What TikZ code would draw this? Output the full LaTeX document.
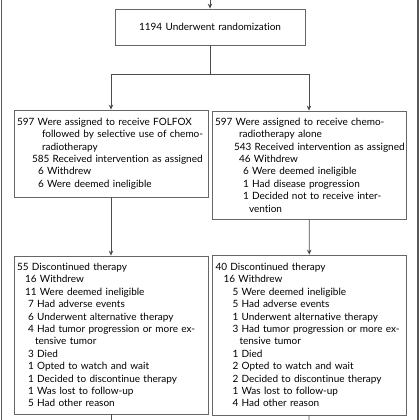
\documentclass[tikz,border=0pt]{standalone}
\usepackage{fontspec}
\setmainfont{Lato}[Ligatures=NoCommon]
\usetikzlibrary{arrows.meta}
\newcommand\rw[2]{\hspace*{#1pt}\mbox{#2}}

\begin{document}
\begin{tikzpicture}[x=1pt,y=-1pt,
    every node/.style={font=\fontsize{10}{12.4}\selectfont},
    box/.style={draw=black!60,line width=.8pt,inner xsep=3pt,inner ysep=0pt,
        minimum width=194pt,text width=188pt,align=left},
    flow/.style={draw=black!70,line width=.8pt},
    arr/.style={flow,-{Stealth[length=5pt,width=4.5pt]}}]
    \useasboundingbox (0,0) rectangle (420,420);
    % Bordes del marco exterior, cortados por la imagen.
    \draw[black!65,line width=1.2pt] (1.5,0) -- (1.5,420);
    \draw[black!65,line width=1.2pt] (418,0) -- (418,420);

    \node[box,minimum width=190pt,minimum height=36pt,text width=184pt,align=center]
        (rand) at (210,27) {1194 Underwent randomization};

    \node[box,minimum height=87pt] (armA) at (111,153.5) {\rw{0}{597 Were assigned to receive FOLFOX}\\
        \rw{25}{followed by selective use of chemo-}\\
        \rw{25}{radiotherapy}\\
        \rw{15}{585 Received intervention as assigned}\\
        \rw{21}{6 Withdrew}\\
        \rw{21}{6 Were deemed ineligible}};
    \node[box,minimum height=108pt] (armB) at (309,165) {\rw{0}{597 Were assigned to receive chemo-}\\
        \rw{24}{radiotherapy alone}\\
        \rw{19}{543 Received intervention as assigned}\\
        \rw{24}{46 Withdrew}\\
        \rw{28}{6 Were deemed ineligible}\\
        \rw{28}{1 Had disease progression}\\
        \rw{28}{1 Decided not to receive inter-}\\
        \rw{34}{vention}};

    \node[box,minimum height=158pt] (discA) at (111,335) {\rw{0}{55 Discontinued therapy}\\
        \rw{8}{16 Withdrew}\\
        \rw{8}{11 Were deemed ineligible}\\
        \rw{11}{7 Had adverse events}\\
        \rw{11}{6 Underwent alternative therapy}\\
        \rw{11}{4 Had tumor progression or more ex-}\\
        \rw{18}{tensive tumor}\\
        \rw{11}{3 Died}\\
        \rw{11}{1 Opted to watch and wait}\\
        \rw{11}{1 Decided to discontinue therapy}\\
        \rw{11}{1 Was lost to follow-up}\\
        \rw{11}{5 Had other reason}};
    \node[box,minimum height=160pt] (discB) at (309.5,335) {\rw{0}{40 Discontinued therapy}\\
        \rw{8}{16 Withdrew}\\
        \rw{17}{5 Were deemed ineligible}\\
        \rw{17}{5 Had adverse events}\\
        \rw{17}{1 Underwent alternative therapy}\\
        \rw{17}{3 Had tumor progression or more ex-}\\
        \rw{24}{tensive tumor}\\
        \rw{17}{1 Died}\\
        \rw{17}{2 Opted to watch and wait}\\
        \rw{17}{2 Decided to discontinue therapy}\\
        \rw{17}{1 Was lost to follow-up}\\
        \rw{17}{4 Had other reason}};

    % Conectores
    \coordinate (top) at (210,0);
    \coordinate (split) at (210,74);
    \coordinate (endA) at (111,420);
    \coordinate (endB) at (309,420);
    \draw[arr] (top) -- (rand);
    \draw[flow] (rand) -- (split);
    \draw[arr] (split) -| (armA);
    \draw[arr] (split) -| (armB);
    \draw[arr] (armA) -- (discA);
    \draw[arr] (armB) -- (discB);
    \draw[flow] (discA) -- (endA);
    \draw[flow] (discB) -- (endB);
\end{tikzpicture}
\end{document}
